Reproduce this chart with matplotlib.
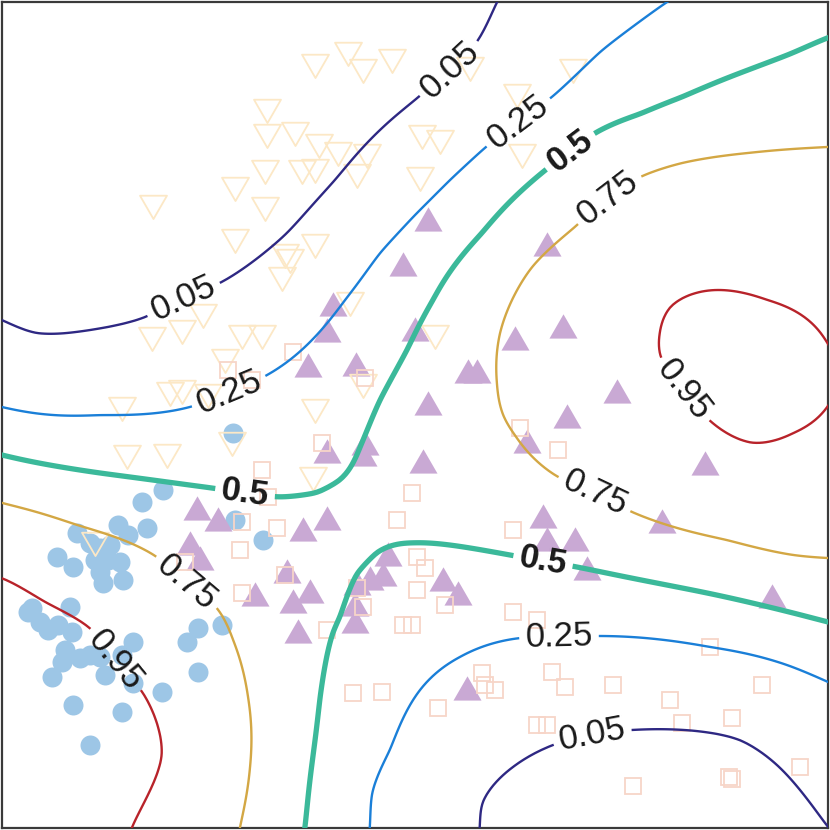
import numpy as np
import matplotlib
matplotlib.use("Agg")
import matplotlib.pyplot as plt
from matplotlib.path import Path

plt.rcParams['font.family'] = ['Liberation Sans', 'DejaVu Sans']

# ---------------- scatter data (image-pixel coordinates, y down) ----------------
circle_x = [233, 163, 142, 235, 263, 118, 147, 77, 90, 128, 57, 73, 100, 110, 108, 120, 100, 123, 103, 95,
            32, 40, 70, 58, 72, 65, 80, 90, 62, 52, 100, 105, 133, 122, 133, 162, 73, 122, 90, 187, 198, 222, 198, 28, 48]
circle_y = [433, 490, 502, 520, 540, 525, 528, 533, 543, 535, 557, 567, 548, 545, 560, 562, 572, 580, 583, 560,
            608, 622, 607, 625, 632, 650, 658, 655, 662, 677, 657, 675, 642, 655, 683, 692, 705, 712, 745, 642, 628, 625, 672, 612, 630]

tri_x = [428, 547, 403, 333, 563, 327, 415, 515, 308, 356, 468, 477, 617, 428, 567, 527, 365, 327, 363, 423, 705,
         197, 218, 327, 303, 543, 662, 190, 200, 547, 575, 388, 287, 370, 383, 357, 443, 587, 458, 255, 310, 293,
         355, 355, 298, 772, 467]
tri_y = [223, 248, 268, 308, 330, 334, 333, 342, 369, 368, 375, 375, 395, 407, 420, 445, 447, 455, 458, 465, 467,
         512, 523, 522, 533, 520, 525, 547, 562, 543, 543, 558, 575, 582, 578, 587, 583, 572, 597, 598, 595, 605,
         608, 625, 635, 600, 692]

itri_x = [348, 315, 363, 392, 470, 573, 517, 267, 267, 295, 319, 338, 367, 422, 440, 522, 265, 302, 315, 357, 420,
          235, 153, 265, 235, 315, 285, 290, 282, 350, 203, 152, 182, 242, 262, 435, 225, 363, 170, 182, 208, 122,
          315, 127, 167, 232, 313, 95]
itri_y = [50, 62, 67, 57, 65, 67, 92, 107, 132, 130, 142, 150, 152, 133, 138, 152, 168, 168, 167, 172, 175,
          185, 203, 205, 237, 242, 252, 257, 275, 300, 312, 335, 328, 333, 333, 333, 357, 382, 390, 388, 392, 405,
          407, 453, 452, 440, 475, 540]

sq_x = [293, 228, 252, 365, 322, 262, 268, 242, 277, 240, 185, 397, 412, 520, 558, 513, 417, 425, 285, 242, 417,
        445, 363, 357, 403, 412, 327, 513, 537, 710, 353, 382, 438, 482, 485, 495, 552, 565, 613, 762, 670, 682,
        732, 537, 547, 633, 729, 732, 800]
sq_y = [352, 370, 380, 378, 443, 470, 497, 522, 528, 550, 562, 520, 493, 428, 450, 530, 557, 568, 575, 593, 590,
        605, 607, 588, 625, 625, 630, 612, 620, 647, 693, 692, 708, 673, 685, 690, 672, 687, 685, 685, 700, 723,
        718, 725, 725, 786, 777, 779, 767]

# ---------------- contour traces ----------------
levels = [0.05, 0.25, 0.5, 0.75, 0.95]
c05_x = [497, 477, 450, 415, 380, 335, 287, 220, 183, 143, 90, 35, 2,
         480, 482, 513, 553, 592, 632, 740, 777, 800, 828]
c05_y = [2, 42, 70, 100, 130, 180, 233, 283, 298, 318, 330, 333, 320,
         827, 803, 767, 745, 734, 730, 740, 765, 790, 827]
c25_x = [667, 600, 552, 518, 487, 450, 415, 380, 345, 280, 229, 190, 100, 2,
         370, 372, 390, 420, 460, 520, 559, 598, 710, 787, 828]
c25_y = [2, 52, 97, 122, 146, 180, 215, 253, 300, 367, 392, 407, 415, 407,
         827, 793, 750, 690, 657, 638, 637, 636, 647, 665, 682]
c50_x = [2, 100, 212, 245, 280, 317, 340, 360, 380, 407, 433, 482, 543, 570, 595, 640, 682, 748, 790, 827,
         305, 320, 333, 340, 357, 377, 413, 510, 543, 577, 677, 773, 828]
c50_y = [455, 473, 488, 493, 497, 493, 480, 447, 400, 350, 300, 233, 172, 151, 133, 114, 97, 70, 54, 38,
         827, 698, 632, 617, 573, 552, 543, 555, 561, 567, 587, 608, 622]
c75_x = [828, 748, 682, 640, 608, 575, 532, 512, 500, 497, 503, 515, 558, 595, 632, 727, 793, 828,
         2, 77, 157, 186, 217, 233, 248, 250, 240]
c75_y = [147, 153, 163, 177, 198, 227, 267, 300, 333, 383, 415, 435, 477, 493, 512, 540, 555, 558,
         503, 525, 557, 583, 608, 640, 697, 767, 827]
c95_x = [827, 767, 715, 670, 660, 660, 684, 707, 752, 793, 827,
         2, 45, 90, 115, 143, 162, 132]
c95_y = [343, 300, 290, 307, 333, 355, 390, 418, 443, 433, 407,
         578, 602, 628, 660, 693, 755, 827]

# interior reference values (logit of probability) away from the traced lines
anchor_x = [20, 150, 300, 20, 790, 30, 640, 335]
anchor_y = [20, 120, 20, 200, 375, 790, 805, 530]
anchor_logit = [-6.0, -5.0, -4.5, -4.5, 3.4, 4.5, -4.0, 0.35]

# label positions (centres of the inline labels)
label_pos = {
    0.05: [(450, 70), (183, 298), (592, 734)],
    0.25: [(518, 122), (229, 392), (559, 637)],
    0.5: [(570, 151), (245, 493), (543, 561)],
    0.75: [(608, 198), (186, 583), (595, 493)],
    0.95: [(684, 390), (115, 660)],
}
line_colors = ['#2e2883', '#1a7fd8', '#3bb99a', '#d3a744', '#b8232a']
line_widths = [1.7, 1.7, 3.8, 1.7, 1.7]

# ---------------- smooth field through the traced levels ----------------
def logit(p):
    return np.log(p / (1 - p))

px, py, pv = [], [], []
for lv, xs, ys in zip(levels, [c05_x, c25_x, c50_x, c75_x, c95_x], [c05_y, c25_y, c50_y, c75_y, c95_y]):
    px += xs
    py += ys
    pv += [logit(lv)] * len(xs)
px += anchor_x
py += anchor_y
pv += anchor_logit
px = np.array(px, float)
py = np.array(py, float)
pv = np.array(pv, float)


def tps_field(xs, ys, vals, gx, gy, lam=2e-4, s=830.0):
    X = np.column_stack([xs, ys]) / s
    n = len(X)
    d = np.linalg.norm(X[:, None, :] - X[None, :, :], axis=2)
    K = np.where(d > 0, d ** 2 * np.log(np.where(d > 0, d, 1)), 0)
    P = np.column_stack([np.ones(n), X])
    A = np.zeros((n + 3, n + 3))
    A[:n, :n] = K + lam * np.eye(n)
    A[:n, n:] = P
    A[n:, :n] = P.T
    b = np.concatenate([vals, np.zeros(3)])
    sol = np.linalg.solve(A, b)
    w, a = sol[:n], sol[n:]
    G = np.column_stack([gx.ravel(), gy.ravel()]) / s
    dg = np.linalg.norm(G[:, None, :] - X[None, :, :], axis=2)
    Kg = np.where(dg > 0, dg ** 2 * np.log(np.where(dg > 0, dg, 1)), 0)
    return (Kg @ w + a[0] + G @ a[1:]).reshape(gx.shape)


gxv = np.linspace(0, 830, 260)
gyv = np.linspace(0, 830, 260)
GX, GY = np.meshgrid(gxv, gyv)
L = tps_field(px, py, pv, GX, GY)
Pr = 1.0 / (1.0 + np.exp(-L))

# ---------------- figure ----------------
fig = plt.figure(figsize=(8.3, 8.3), dpi=100)
ax = fig.add_axes([2 / 830, 2 / 830, 826 / 830, 826 / 830])
ax.set_xlim(2, 828)
ax.set_ylim(828, 2)
ax.set_xticks([])
ax.set_yticks([])
for sp in ax.spines.values():
    sp.set_color('#3a3a3a')
    sp.set_linewidth(1.6)

tri_up = Path([(0, 1), (-0.866, -0.5), (0.866, -0.5), (0, 1)], closed=True)
tri_dn = Path([(0, -1), (-0.866, 0.5), (0.866, 0.5), (0, -1)], closed=True)

ax.plot(circle_x, circle_y, ls='none', marker='o', ms=14.4, mfc='#9dc6e6', mec='none', zorder=2)
ax.plot(tri_x, tri_y, ls='none', marker=tri_up, ms=23.3, mfc='#c9a9d4', mec='none', zorder=2.1)
ax.plot(itri_x, itri_y, ls='none', marker=tri_dn, ms=22.4, mfc='none', mec='#fce8c6', mew=1.3, zorder=2.2)
ax.plot(sq_x, sq_y, ls='none', marker='s', ms=11.2, mfc='none', mec='#f7d5c8', mew=1.3, zorder=2.3)

for lv, col, lw in zip(levels, line_colors, line_widths):
    cs = ax.contour(GX, GY, Pr, levels=[lv], colors=[col], linewidths=[lw], zorder=3)
    plt.rcParams['font.weight'] = 'bold' if lv == 0.5 else 'normal'
    txt = '0.5' if lv == 0.5 else f'{lv:g}'
    cs.clabel(manual=label_pos[lv], inline=True, inline_spacing=6,
              fontsize=25, fmt={lv: txt}, colors='#1a1a1a')
plt.rcParams['font.weight'] = 'normal'

fig.savefig('out.png', dpi=100)
